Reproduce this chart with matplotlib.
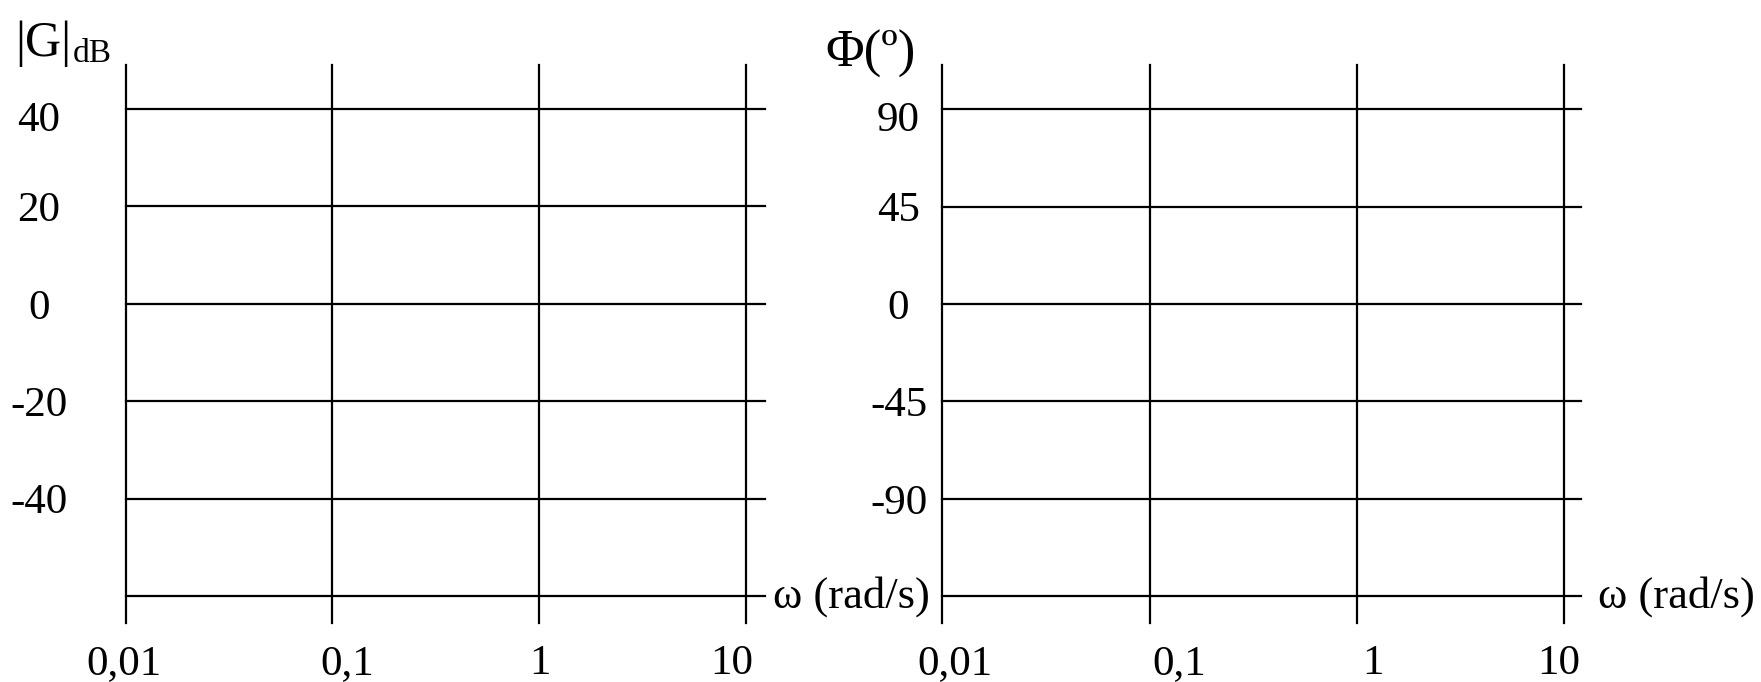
import matplotlib
matplotlib.use('Agg')
import matplotlib.pyplot as plt
from matplotlib.transforms import blended_transform_factory as btf

# ---- data (grid template values) ----
freq_ticks = [0.01, 0.1, 1, 10]
freq_labels = ['0,01', '0,1', '1', '10']
mag_ticks = [40, 20, 0, -20, -40]
mag_labels = ['40', '20', '0', '-20', '-40']
mag_base = -60
phase_ticks = [90, 45, 0, -45, -90]
phase_labels = ['90', '45', '0', '-45', '-90']
phase_base = -135

plt.rcParams['font.family'] = ['Liberation Serif', 'DejaVu Serif']

W, H = 1761, 682
fig = plt.figure(figsize=(W / 100, H / 100), dpi=100)

TICK_FS = 31


def px_axes(l, r, t, b):
    return fig.add_axes([l / W, 1 - b / H, (r - l) / W, (b - t) / H])


def setup(ax, xlim, ylim, yticks, ylabels, base, ylab_x, yoffs, xoffs, omega_dx):
    ax.set_xscale('log')
    ax.set_xlim(*xlim)
    ax.set_ylim(*ylim)
    for s in ax.spines.values():
        s.set_visible(False)
    ax.set_xticks([])
    ax.set_yticks([])
    ax.minorticks_off()
    ax.patch.set_alpha(0)
    lw = 1.6
    for x in freq_ticks:
        ax.axvline(x, color='black', lw=lw, clip_on=False)
    for y in list(yticks) + [base]:
        ax.axhline(y, color='black', lw=lw, clip_on=False)
    # y labels
    ty = btf(fig.transFigure, ax.transData)
    for y, lab, dy in zip(yticks, ylabels, yoffs):
        ax.annotate(lab, xy=(ylab_x / W, y), xycoords=ty,
                    xytext=(0, dy), textcoords='offset pixels',
                    ha='center', va='center_baseline', fontsize=TICK_FS,
                    annotation_clip=False)
    # x labels
    tx = btf(ax.transData, fig.transFigure)
    for x, lab, dx in zip(freq_ticks, freq_labels, xoffs):
        ax.annotate(lab, xy=(x, 1 - 674 / H), xycoords=tx,
                    xytext=(dx, 0), textcoords='offset pixels',
                    ha='center', va='baseline', fontsize=TICK_FS,
                    annotation_clip=False)
    # omega label
    ax.annotate('ω (rad/s)', xy=(1, base), xycoords=btf(ax.transAxes, ax.transData),
                xytext=(omega_dx, 0), textcoords='offset pixels',
                ha='left', va='center', fontsize=32, annotation_clip=False)


axL = px_axes(125.5, 765, 65, 623)
setup(axL, (0.01, 12.34), (-65.5, 49.0), mag_ticks, mag_labels, mag_base,
      39, [-7, 0, 0, 0, 0], [-1, 15, 1, -14], 8)

axR = px_axes(942.3, 1581.3, 65, 623)
setup(axR, (0.01, 12.13), (-147.3, 110.4), phase_ticks, phase_labels, phase_base,
      898.5, [-7, 0, 0, 0, 0], [13, 30, 16, -5], 17)

# axis titles
fig.text(15.7 / W, 1 - 56 / H, '|G|', fontsize=36, ha='left', va='baseline')
fig.text(73 / W, 1 - 62 / H, 'dB', fontsize=24, ha='left', va='baseline')
fig.text(825 / W, 1 - 67 / H, 'Φ(º)', fontsize=38, ha='left', va='baseline')

fig.savefig('out.png', dpi=100)
